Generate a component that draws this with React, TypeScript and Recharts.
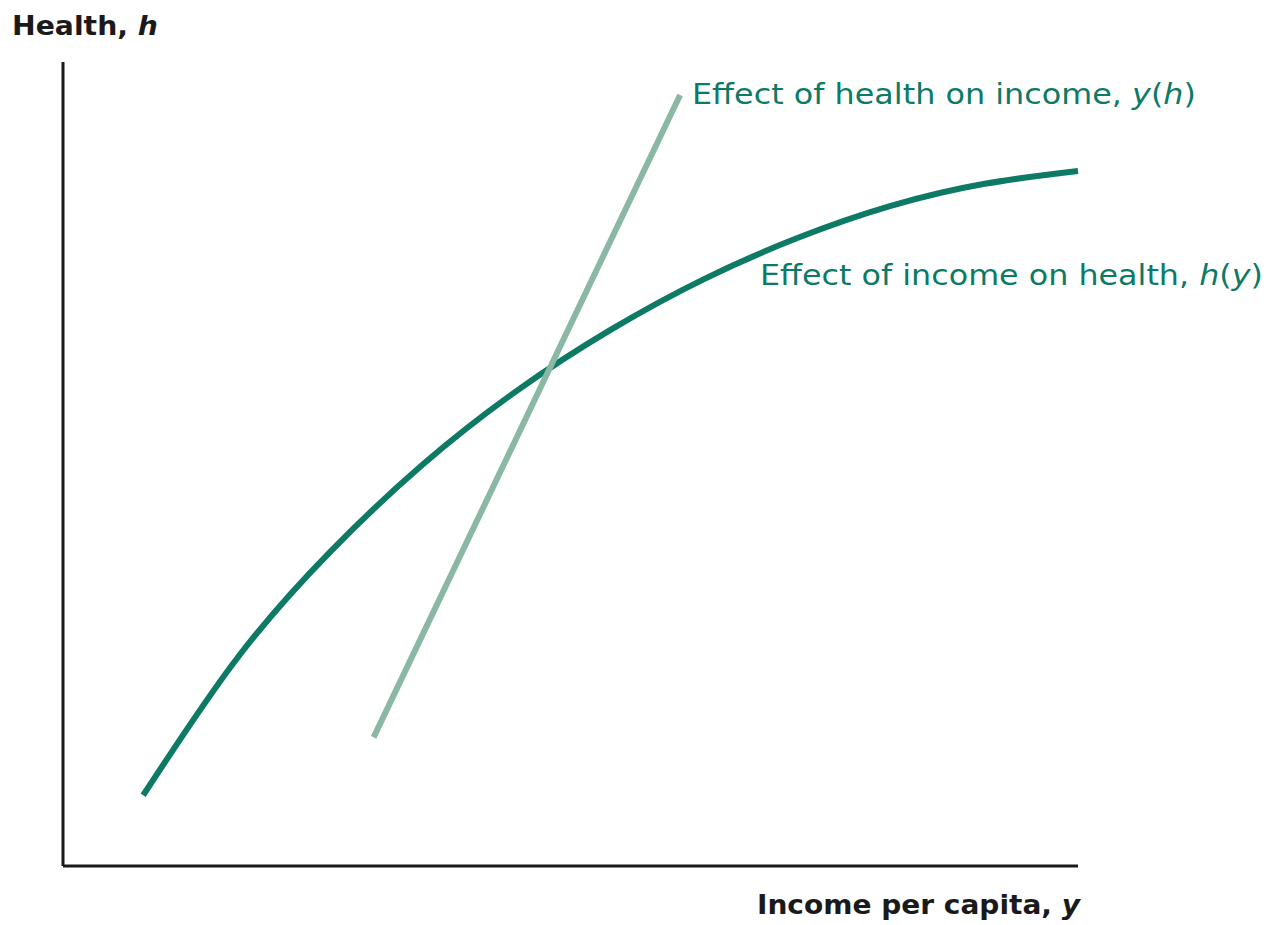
import { LineChart, Line, XAxis, YAxis } from 'recharts';

// h(y): income per capita (x) and health (y), arbitrary 0-100 units
const incomeX = [7.9, 17.1, 26.3, 35.5, 44.7, 53.9, 63.15, 72.35, 81.55, 90.8, 100];
const healthY = [8.8, 25.75, 39.05, 50.0, 59.1, 66.65, 73.0, 78.1, 82.1, 84.85, 86.45];

// y(h): a straight line, two endpoints
const yhIncome = [30.6, 60.8];
const yhHealth = [16.0, 95.9];

const DARK = '#0c7a65';
const LIGHT = '#8ab8a4';
const AXIS = '#1a1a1a';
const FONT = '"DejaVu Sans", "Open Sans", sans-serif';

const incomeOnHealth = incomeX.map((x, i) => ({ x, y: healthY[i] }));
const healthOnIncome = yhIncome.map((x, i) => ({ x, y: yhHealth[i] }));

export default function App() {
  return (
    <div style={{ position: 'absolute', left: 0, top: 0, background: '#fff' }}>
      <LineChart
        width={1271}
        height={925}
        margin={{ top: 62, right: 193, bottom: 29, left: 3 }}
      >
        <XAxis
          type="number"
          dataKey="x"
          domain={[0, 100]}
          tick={false}
          tickLine={false}
          height={30}
          axisLine={{ stroke: AXIS, strokeWidth: 3 }}
        />
        <YAxis
          type="number"
          dataKey="y"
          domain={[0, 100]}
          tick={false}
          tickLine={false}
          width={60}
          axisLine={{ stroke: AXIS, strokeWidth: 3 }}
        />
        <Line
          data={incomeOnHealth}
          dataKey="y"
          type="natural"
          stroke={DARK}
          strokeWidth={6}
          dot={false}
          isAnimationActive={false}
        />
        <Line
          data={healthOnIncome}
          dataKey="y"
          type="linear"
          stroke={LIGHT}
          strokeWidth={6}
          dot={false}
          isAnimationActive={false}
        />
        <text x={12} y={35} fontFamily={FONT} fontSize={27} fontWeight={700} fill={AXIS}
          textLength={146} lengthAdjust="spacingAndGlyphs">
          Health, <tspan fontStyle="italic">h</tspan>
        </text>
        <text x={757} y={914} fontFamily={FONT} fontSize={27} fontWeight={700} fill={AXIS}
          textLength={323} lengthAdjust="spacingAndGlyphs">
          Income per capita, <tspan fontStyle="italic">y</tspan>
        </text>
        <text x={692} y={104} fontFamily={FONT} fontSize={28} fill={DARK}
          textLength={504} lengthAdjust="spacingAndGlyphs">
          Effect of health on income, <tspan fontStyle="italic">y</tspan>(<tspan fontStyle="italic">h</tspan>)
        </text>
        <text x={760} y={285} fontFamily={FONT} fontSize={28} fill={DARK}
          textLength={503} lengthAdjust="spacingAndGlyphs">
          Effect of income on health, <tspan fontStyle="italic">h</tspan>(<tspan fontStyle="italic">y</tspan>)
        </text>
      </LineChart>
    </div>
  );
}
